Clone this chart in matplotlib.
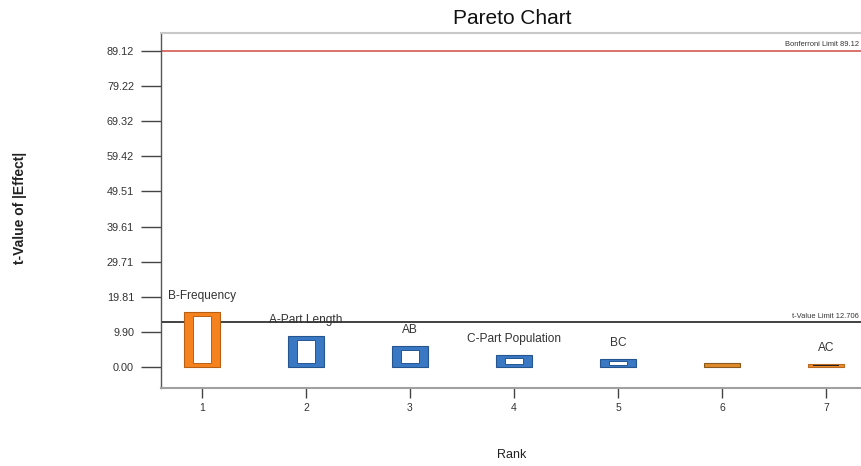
import numpy as np
import matplotlib
import matplotlib.pyplot as plt

matplotlib.rcParams['font.family'] = ['Liberation Sans', 'DejaVu Sans']

# Effect data
ranks = [1, 2, 3, 4, 5, 6, 7]
t_values = [15.5, 8.7, 5.9, 3.4, 2.25, 1.0, 0.75]
terms = ['B-Frequency', 'A-Part Length', 'AB', 'C-Part Population', 'BC', '', 'AC']
y_ticks = [0.00, 9.90, 19.81, 29.71, 39.61, 49.51, 59.42, 69.32, 79.22, 89.12]
y_tick_labels = ['0.00', '9.90', '19.81', '29.71', '39.61', '49.51', '59.42', '69.32', '79.22', '89.12']
bonferroni = 89.12
t_limit = 12.706

# styles (orange / blue bars as in the original)
fill_cols = ['#f5821f', '#3b78c4', '#3b78c4', '#3b78c4', '#3b78c4', '#e08a2c', '#f08a2a']
edge_cols = ['#b85f14', '#25558f', '#25558f', '#25558f', '#25558f', '#8a5a1c', '#b86a20']
inner_cols = ['white', 'white', 'white', 'white', 'white', None, '#222222']

fig = plt.figure(figsize=(8.62, 4.66), dpi=100)
ax = fig.add_axes([161/862, 78/466, (880-161)/862, 355/466])

bar_w = 0.345
inner_w = 0.18
ax.bar(ranks, t_values, width=bar_w, color=fill_cols, edgecolor=edge_cols, linewidth=0.8, zorder=3)
for r, v, c, e in zip(ranks, t_values, inner_cols, edge_cols):
    if c is None:
        continue
    if c == 'white':
        inset = min(1.1, 0.28 * v)
        ax.bar(r, v - 2 * inset, bottom=inset, width=inner_w, color=c,
               edgecolor=e, linewidth=0.7, zorder=4)
    else:
        ax.bar(r, v * 0.3, bottom=v * 0.35, width=bar_w * 0.7, color=c,
               linewidth=0, zorder=4)

for r, v, name in zip(ranks, t_values, terms):
    if name:
        ax.annotate(name, (r, v), xytext=(0, 11.5), textcoords='offset points',
                    ha='center', va='center', fontsize=8.6, color='#333333')

ax.axhline(bonferroni, color='#d24a45', linewidth=1.1, zorder=2)
ax.axhline(t_limit, color='#333333', linewidth=1.3, zorder=2)
# limit labels, right aligned just inside the figure edge
fig.text(859/862, 1 - 45/466, 'Bonferroni Limit 89.12', fontsize=5.4,
         color='#333333', ha='right', va='center')
fig.text(859/862, 1 - 316/466, 't-Value Limit 12.706', fontsize=5.4,
         color='#333333', ha='right', va='center')

ax.set_xlim(0.606, 7.519)
ax.set_ylim(-5.92, 94.19)
ax.set_xticks(ranks)
ax.set_yticks(y_ticks)
ax.set_yticklabels(y_tick_labels)
ax.tick_params(axis='y', length=14.4, width=1, color='#444444', pad=5,
               labelsize=7.8, labelcolor='#333333')
ax.tick_params(axis='x', length=7, width=1, color='#444444', pad=4,
               labelsize=7.5, labelcolor='#333333')

ax.spines['top'].set_color('#c8c8c8')
ax.spines['top'].set_linewidth(1.5)
ax.spines['right'].set_visible(False)
ax.spines['left'].set_color('#555555')
ax.spines['left'].set_linewidth(1)
ax.spines['bottom'].set_color('#a0a0a0')
ax.spines['bottom'].set_linewidth(1.5)

fig.text(512/862, 1 - 18/466, 'Pareto Chart', ha='center', va='center', fontsize=15, color='#111111')
fig.text(512/862, 1 - 455/466, 'Rank', ha='center', va='center', fontsize=9, color='#222222')
fig.text(20/862, 1 - 208/466, 't-Value of |Effect|', ha='center', va='center',
         rotation=90, fontsize=10, fontweight='bold', color='#222222')

fig.savefig('out.png', dpi=100, facecolor='white')
